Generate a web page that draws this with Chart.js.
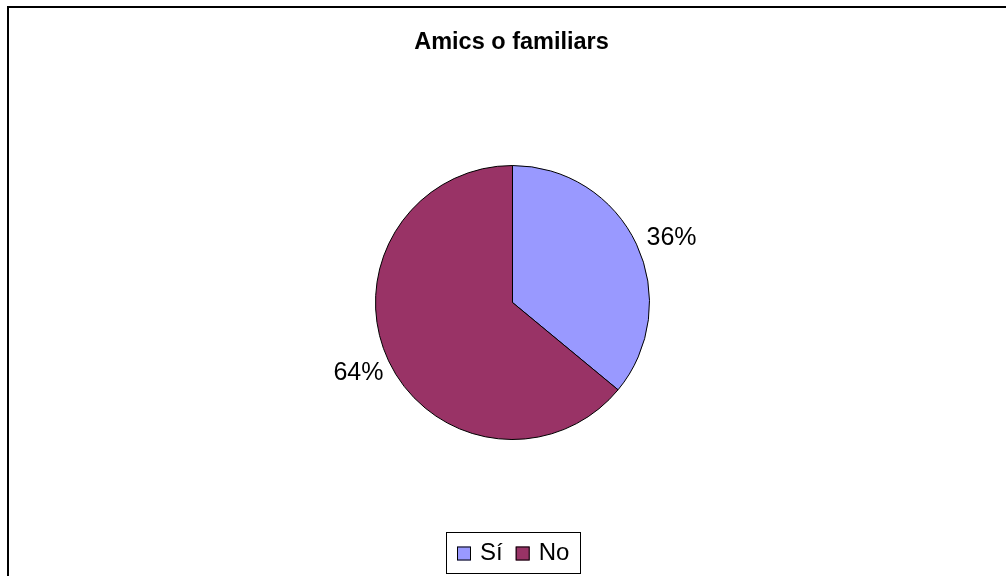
<!DOCTYPE html>
<html>
<head>
<meta charset="utf-8">
<script src="https://cdn.jsdelivr.net/npm/chart.js@4.4.0/dist/chart.umd.min.js"></script>
<style>
  html, body { margin: 0; padding: 0; background: #fff; }
  #wrap { position: relative; width: 1006px; height: 576px; }
</style>
</head>
<body>
<div id="wrap"><canvas id="pieChart" width="1006" height="576"></canvas></div>
<script>
// Chart data
const chartTitle = 'Amics o familiars';
const categories = ['Sí', 'No'];
const values = [36, 64];

const sliceColors = ['#9999FF', '#993366'];
const fontFamily = '"Liberation Sans", Arial, sans-serif';

// Frame, title, percent labels and boxed legend (Excel-like look)
const excelLook = {
    id: 'excelLook',
    afterDraw(chart) {
        const ctx = chart.ctx;
        ctx.save();

        // outer frame (only top and left edges are visible)
        ctx.fillStyle = '#000';
        ctx.fillRect(7, 6, 1006, 2);
        ctx.fillRect(7, 6, 2, 576);

        // title
        ctx.font = 'bold 23.5px ' + fontFamily;
        ctx.textAlign = 'center';
        ctx.textBaseline = 'alphabetic';
        ctx.fillText(chartTitle, 511.5, 49);

        // percent labels outside each slice
        const data = chart.data.datasets[0].data;
        const total = data.reduce((a, b) => a + b, 0);
        ctx.font = '25px ' + fontFamily;
        ctx.textBaseline = 'middle';
        chart.getDatasetMeta(0).data.forEach((arc, i) => {
            const mid = (arc.startAngle + arc.endAngle) / 2;
            const r = arc.outerRadius + 10;
            const x = arc.x + Math.cos(mid) * r;
            const y = arc.y + Math.sin(mid) * r;
            const right = Math.cos(mid) >= 0;
            ctx.textAlign = right ? 'left' : 'right';
            ctx.fillText(Math.round(data[i] / total * 100) + '%',
                x + (right ? 1 : 4), y + (Math.sin(mid) > 0 ? 8 : -2));
        });

        // legend
        const labels = chart.data.labels;
        const colors = chart.data.datasets[0].backgroundColor;
        ctx.font = '24px ' + fontFamily;
        ctx.textAlign = 'left';
        ctx.textBaseline = 'middle';
        const box = 14, gapBox = 9, gapItem = 13, padX = 11;
        let widths = labels.map(l => ctx.measureText(l).width);
        let legendW = Math.round(padX * 2 + labels.length * (box + gapBox) + widths.reduce((a, b) => a + b, 0) + gapItem * (labels.length - 1));
        let lx = Math.round(512.5 - legendW / 2);
        const ly = 532, lh = 41;
        ctx.lineWidth = 1;
        ctx.strokeStyle = '#000';
        ctx.strokeRect(lx + 0.5, ly + 0.5, legendW, lh);
        let cx = lx + padX;
        const cy = ly + lh / 2;
        labels.forEach((l, i) => {
            ctx.fillStyle = colors[i];
            ctx.fillRect(cx, cy - box / 2 + 1, box, box);
            ctx.strokeRect(cx + 0.5, cy - box / 2 + 1.5, box - 1, box - 1);
            cx += box + gapBox;
            ctx.fillStyle = '#000';
            ctx.fillText(l, cx, cy + 1);
            cx += widths[i] + gapItem;
        });

        ctx.restore();
    }
};

new Chart(document.getElementById('pieChart').getContext('2d'), {
    type: 'pie',
    data: {
        labels: categories,
        datasets: [{
            data: values,
            backgroundColor: sliceColors,
            borderColor: '#000',
            borderWidth: 1
        }]
    },
    options: {
        responsive: false,
        animation: false,
        layout: {
            padding: { top: 165, bottom: 136, left: 375, right: 356 }
        },
        plugins: {
            legend: { display: false },
            title: { display: false },
            tooltip: { enabled: false }
        }
    },
    plugins: [excelLook]
});
</script>
</body>
</html>
